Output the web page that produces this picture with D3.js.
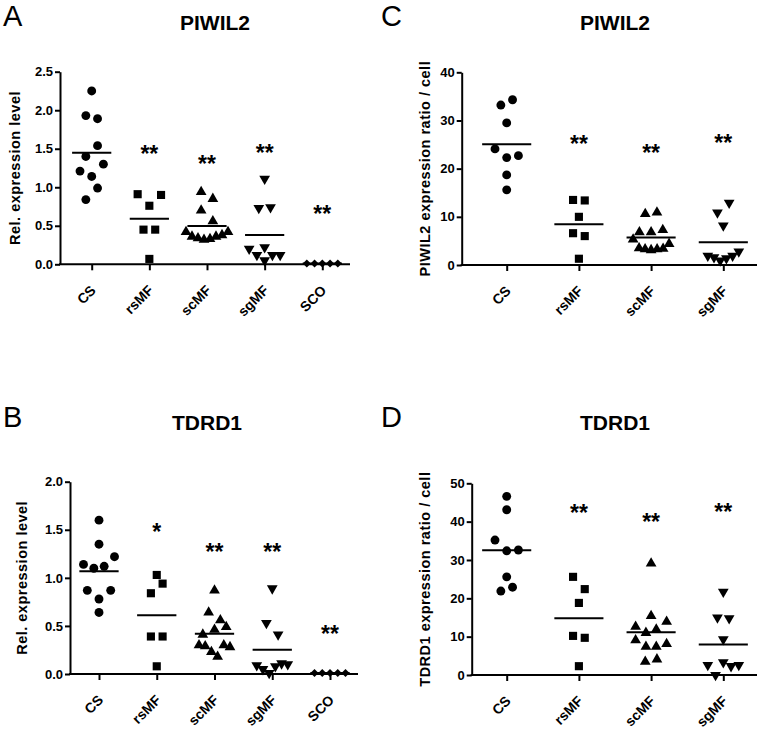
<!DOCTYPE html>
<html><head><meta charset="utf-8">
<script src="https://cdn.jsdelivr.net/npm/d3@7"></script>
<style>
body{margin:0;background:#fff;}
svg text{font-family:"Liberation Sans",Arial,sans-serif;}
</style></head><body>
<svg id="chart" width="764" height="730"></svg>
<script>
// ---------- DATA ----------
const categoriesAB = ["CS","rsMF","scMF","sgMF","SCO"];
const categoriesCD = ["CS","rsMF","scMF","sgMF"];
const ticksA = [0,0.5,1.0,1.5,2.0,2.5];
const ticksB = [0,0.5,1.0,1.5,2.0];
const ticksC = [0,10,20,30,40];
const ticksD = [0,10,20,30,40,50];

// Panel A: PIWIL2, Rel. expression level
const A_CS   = [2.25,1.93,1.89,1.40,1.54,1.21,1.14,1.30,0.84,0.99];
const A_rsMF = [0.91,0.76,0.90,0.45,0.45,0.07];
const A_scMF = [0.94,0.85,0.70,0.56,0.42,0.36,0.34,0.32,0.33,0.36,0.38,0.42];
const A_sgMF = [1.11,0.73,0.74,0.20,0.22,0.12,0.05,0.12,0.12];
const A_SCO  = [0.01,0.01,0.01,0.01,0.01];
const A_stars = ["","**","**","**","**"];
const A_starLevels = [null,1.50,1.37,1.51,0.72];

// Panel B: TDRD1, Rel. expression level
const B_CS   = [1.60,1.35,1.14,1.10,1.12,1.22,0.87,0.78,0.87,0.64];
const B_rsMF = [1.03,0.84,0.94,0.39,0.39,0.08];
const B_scMF = [0.87,0.64,0.56,0.41,0.46,0.49,0.30,0.29,0.23,0.18,0.30,0.28];
const B_sgMF = [0.89,0.53,0.41,0.09,0.05,0.01,0.08,0.11,0.10];
const B_SCO  = [0.01,0.01,0.01,0.01,0.01];
const B_stars = ["","*","**","**","**"];
const B_starLevels = [null,1.53,1.32,1.32,0.47];

// Panel C: PIWIL2 expression ratio / cell
const C_CS   = [33.2,34.3,29.5,24.1,22.3,22.7,18.7,15.6];
const C_rsMF = [13.5,13.4,10.0,6.6,6.0,1.3];
const C_scMF = [10.6,10.9,6.8,6.8,7.3,5.3,3.5,3.3,3.1,3.3,3.4,4.4];
const C_sgMF = [10.9,12.9,8.2,1.9,1.6,0.9,1.4,1.9,2.8];
const C_stars = ["","**","**","**"];
const C_starLevels = [null,26.2,24.2,26.4];

// Panel D: TDRD1 expression ratio / cell
const D_CS   = [46.6,43.1,35.2,32.4,32.6,25.6,21.9,22.9];
const D_rsMF = [25.6,22.4,18.8,10.2,9.7,2.3];
const D_scMF = [29.1,15.4,12.6,11.0,11.9,13.9,9.1,7.4,7.4,8.1,3.5,4.1];
const D_sgMF = [21.7,15.0,14.8,9.3,2.6,0.0,3.3,2.3,2.6];
const D_stars = ["","**","**","**"];
const D_starLevels = [null,43.5,41.3,43.9];

// ---------- DRAWING ----------
const svg = d3.select("#chart");
const FONT = '"Liberation Sans",Arial,sans-serif';
const shapes = ["circle","square","triangle","triangleDown","diamond"];
const ROW_H = 13;

function symbolPath(kind){
  if(kind==="circle") return d3.symbol(d3.symbolCircle, 62)();
  if(kind==="square") return d3.symbol(d3.symbolSquare, 66)();
  if(kind==="triangle"||kind==="triangleDown") return d3.symbol(d3.symbolTriangle, 50)();
  return d3.symbol(d3.symbolSquare, 32)();
}
function symbolRot(kind){
  if(kind==="triangleDown") return 180;
  if(kind==="diamond") return 45;
  return 0;
}

function swarm(values, y){
  const pts = values.map((v,i)=>({v,i,py:y(v),dx:0}));
  const sorted = pts.slice().sort((a,b)=>b.py-a.py || a.i-b.i);
  const rows=[]; let cur=null;
  for(const p of sorted){
    if(cur && cur.start - p.py < ROW_H) cur.m.push(p);
    else { cur={start:p.py, m:[p]}; rows.push(cur); }
  }
  rows.forEach(r=>{
    r.m.sort((a,b)=>a.i-b.i);
    const n=r.m.length;
    const s = n<=1?0:Math.max(6, Math.min(11.7, 31/(n-1)));
    r.m.forEach((p,k)=>{p.dx=(k-(n-1)/2)*s;});
  });
  return pts;
}

function drawPanel(c){
  const g = svg.append("g");
  const y = d3.scaleLinear().domain(c.domain).range([c.yBot, c.yTop]);
  const x = d3.scalePoint().domain(c.cats).range([c.firstX, c.lastX]);
  const step = x.step();

  g.append("text").attr("x",c.letterX).attr("y",c.letterY)
    .style("font-size","29px").text(c.letter);
  g.append("text").attr("x",c.titleX).attr("y",c.titleY)
    .attr("text-anchor","middle").style("font-size","21px").style("font-weight","bold")
    .text(c.title);
  g.append("text").attr("transform",`translate(${c.ylabelX},${(c.yTop+c.yBot)/2}) rotate(-90)`)
    .attr("text-anchor","middle").style("font-size","14.5px").style("font-weight","bold")
    .style("letter-spacing","0.5px")
    .text(c.ylabel);

  // y axis
  const ya = g.append("g").attr("transform",`translate(${c.ax},0)`)
    .call(d3.axisLeft(y).tickValues(c.ticks).tickFormat(d3.format(c.fmt)).tickSize(5).tickSizeOuter(0).tickPadding(2));
  ya.select(".domain").attr("stroke-width",2);
  ya.selectAll(".tick line").attr("stroke-width",2);
  ya.selectAll("text").style("font-size","13px").style("font-weight","bold").style("font-family",FONT);

  // x axis
  g.append("line").attr("x1",c.ax-1).attr("x2",c.axEnd).attr("y1",c.yBot).attr("y2",c.yBot)
    .attr("stroke","#000").attr("stroke-width",2);
  const xa = g.append("g").attr("transform",`translate(0,${c.yBot})`)
    .call(d3.axisBottom(x).tickSize(6).tickSizeOuter(0).tickFormat(""));
  xa.select(".domain").remove();
  xa.selectAll(".tick line").attr("stroke-width",2);
  g.append("g").selectAll("text").data(c.cats).join("text")
    .attr("transform",d=>`translate(${x(d)+5},${c.yBot+27}) rotate(-45)`)
    .attr("text-anchor","end")
    .style("font-size","14px").style("font-weight","bold")
    .text(d=>d);

  // points, means, significance stars
  c.series.forEach((vals,si)=>{
    const cat=c.cats[si];
    const cx=x(cat);
    const kind=shapes[si];
    const pts=swarm(vals,y);
    g.append("g").selectAll("path").data(pts).join("path")
      .attr("d",symbolPath(kind))
      .attr("transform",d=>`translate(${cx+d.dx},${d.py}) rotate(${symbolRot(kind)})`)
      .attr("fill","#000");
    const m=d3.mean(vals);
    g.append("line").attr("x1",cx-step*0.34).attr("x2",cx+step*0.34)
      .attr("y1",y(m)).attr("y2",y(m)).attr("stroke","#000").attr("stroke-width",2);
    if(c.stars[si]){
      g.append("text").attr("x",cx).attr("y",y(c.starLevels[si])+13)
        .attr("text-anchor","middle").style("font-size","23px").style("font-weight","bold")
        .text(c.stars[si]);
    }
  });
}

drawPanel({letter:"A",letterX:3,letterY:26,title:"PIWIL2",titleX:215,titleY:29.5,
  ylabel:"Rel. expression level",ylabelX:20,cats:categoriesAB,
  series:[A_CS,A_rsMF,A_scMF,A_sgMF,A_SCO],stars:A_stars,starLevels:A_starLevels,
  domain:[0,2.5],ticks:ticksA,fmt:".1f",ax:60,axEnd:350,yTop:71.7,yBot:264.3,firstX:91.7,lastX:322.3});
drawPanel({letter:"B",letterX:3,letterY:427,title:"TDRD1",titleX:207,titleY:429.5,
  ylabel:"Rel. expression level",ylabelX:27,cats:categoriesAB,
  series:[B_CS,B_rsMF,B_scMF,B_sgMF,B_SCO],stars:B_stars,starLevels:B_starLevels,
  domain:[0,2],ticks:ticksB,fmt:".1f",ax:70,axEnd:358,yTop:481.7,yBot:674,firstX:99,lastX:330});
drawPanel({letter:"C",letterX:381,letterY:26,title:"PIWIL2",titleX:615,titleY:29.5,
  ylabel:"PIWIL2 expression ratio / cell",ylabelX:430,cats:categoriesCD,
  series:[C_CS,C_rsMF,C_scMF,C_sgMF],stars:C_stars,starLevels:C_starLevels,
  domain:[0,40],ticks:ticksC,fmt:"d",ax:461.7,axEnd:757,yTop:72.3,yBot:265,firstX:506.7,lastX:723.3});
drawPanel({letter:"D",letterX:381,letterY:427,title:"TDRD1",titleX:615,titleY:430,
  ylabel:"TDRD1 expression ratio / cell",ylabelX:430,cats:categoriesCD,
  series:[D_CS,D_rsMF,D_scMF,D_sgMF],stars:D_stars,starLevels:D_starLevels,
  domain:[0,50],ticks:ticksD,fmt:"d",ax:471.7,axEnd:757,yTop:483.3,yBot:675,firstX:506.7,lastX:723.3});
</script>
</body></html>
